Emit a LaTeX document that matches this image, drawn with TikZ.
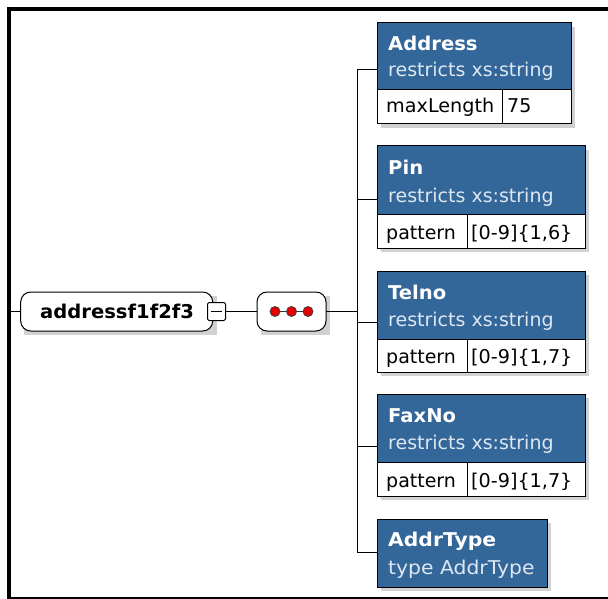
\documentclass[tikz,border=0pt]{standalone}
\usepackage{fontspec}
\setmainfont{DejaVu Sans}
\definecolor{xsblue}{RGB}{51,102,153}
\definecolor{subtxt}{RGB}{222,232,242}
\newcommand\xst[2]{\scalebox{#1}[1]{#2}}
\tikzset{
  con/.style={draw=black, line width=1pt},
  shadowbox/.style={fill=black!18, draw=none},
  bluebox/.style={draw=black, fill=xsblue, line width=1pt, inner sep=0pt, outer sep=0pt, anchor=north west},
  cellbox/.style={draw=black, fill=white, line width=1pt, inner sep=0pt, outer sep=0pt, anchor=north west},
  elembox/.style={draw=black, fill=white, line width=1pt, rounded corners=10pt, inner sep=0pt, outer sep=0pt, anchor=north west},
  titletxt/.style={anchor=base west, text=white, font=\bfseries\fontsize{19}{21}\selectfont, inner sep=0pt},
  subtxt/.style={anchor=base west, text=subtxt, font=\fontsize{19}{21}\selectfont, inner sep=0pt},
  celltxt/.style={anchor=base west, text=black, font=\fontsize{19}{21}\selectfont, inner sep=0pt},
  roottxt/.style={anchor=base west, text=black, font=\bfseries\fontsize{19}{21}\selectfont, inner sep=0pt},
  seqdot/.style={circle, fill=red!90!black, draw=black!75, line width=0.8pt, minimum size=10pt, inner sep=0pt},
}
\begin{document}
\begin{tikzpicture}[x=1pt,y=-1pt]
\useasboundingbox (0,0) rectangle (608,599);
\fill[white] (0,0) rectangle (608,599);
% frame
\fill[black] (7,7) rectangle (608,11);
\fill[black] (7,7) rectangle (11,599);
\fill[black] (7,597.3) rectangle (608,599);

% shadows
\fill[shadowbox] (24,296) rectangle (217,335);
\fill[shadowbox] (261,296) rectangle (330,335);
\fill[shadowbox] (381,27) rectangle (575,128);
\fill[shadowbox] (381,150) rectangle (589,252);
\fill[shadowbox] (381,275) rectangle (589,376);
\fill[shadowbox] (381,398) rectangle (589,500);
\fill[shadowbox] (381,523) rectangle (551,591);

% root element
\node[elembox, minimum width=192pt, minimum height=39pt] (root) at (20.7,292) {};
\node[roottxt] (rootname) at (40,318) {\xst{1.03}{addressf1f2f3}};
\node[draw=black, fill=white, line width=1pt, rounded corners=1.5pt, minimum size=18pt, inner sep=0pt, outer sep=0pt] (minus) at (216.5,311.5) {};
\draw[line width=1pt] ([xshift=-5.5pt]minus.center) -- ([xshift=5.5pt]minus.center);

% sequence compositor
\node[elembox, minimum width=69pt, minimum height=39pt] (seq) at (257,292) {};
\node[seqdot] (d1) at (275,311.5) {};
\node[seqdot] (d2) at (291.5,311.5) {};
\node[seqdot] (d3) at (308,311.5) {};
\draw[line width=1.2pt, black!80] (d1) -- (d2) (d2) -- (d3);

% trunk coordinates
\coordinate (frameL) at (11,311.5);
\coordinate (t1) at (357,70);
\coordinate (t2) at (357,199);
\coordinate (t3) at (357,322);
\coordinate (t4) at (357,446);
\coordinate (t5) at (357,552);

% Address
\node[bluebox, minimum width=194pt, minimum height=67pt] (addr) at (377,23) {};
\node[cellbox, minimum width=125pt, minimum height=34pt] (addrk) at (addr.south west) {};
\node[cellbox, minimum width=69pt, minimum height=34pt] (addrv) at (addrk.north east) {};
\node[titletxt] (addrn) at (388,51) {\xst{1.03}{Address}};
\node[subtxt] (addrs) at (388,77) {restricts xs:string};
\node[celltxt] (addrkt) at (386,113) {\xst{1.01}{maxLength}};
\node[celltxt] (addrvt) at (507,113) {75};

% Pin
\node[bluebox, minimum width=208pt, minimum height=68pt] (pin) at (377,146) {};
\node[cellbox, minimum width=90pt, minimum height=34pt] (pink) at (pin.south west) {};
\node[cellbox, minimum width=118pt, minimum height=34pt] (pinv) at (pink.north east) {};
\node[titletxt] (pinn) at (388,175) {\xst{1.03}{Pin}};
\node[subtxt] (pins) at (388,202) {restricts xs:string};
\node[celltxt] (pinkt) at (386,239) {pattern};
\node[celltxt] (pinvt) at (471,239) {\xst{1.01}{[0-9]\{1,6\}}};

% Telno
\node[bluebox, minimum width=208pt, minimum height=68pt] (tel) at (377,271) {};
\node[cellbox, minimum width=90pt, minimum height=33pt] (telk) at (tel.south west) {};
\node[cellbox, minimum width=118pt, minimum height=33pt] (telv) at (telk.north east) {};
\node[titletxt] (teln) at (388,299) {\xst{1.03}{Telno}};
\node[subtxt] (tels) at (388,326) {restricts xs:string};
\node[celltxt] (telkt) at (386,363) {pattern};
\node[celltxt] (telvt) at (471,363) {\xst{1.01}{[0-9]\{1,7\}}};

% FaxNo
\node[bluebox, minimum width=208pt, minimum height=68pt] (fax) at (377,394) {};
\node[cellbox, minimum width=90pt, minimum height=34pt] (faxk) at (fax.south west) {};
\node[cellbox, minimum width=118pt, minimum height=34pt] (faxv) at (faxk.north east) {};
\node[titletxt] (faxn) at (388,422) {\xst{1.03}{FaxNo}};
\node[subtxt] (faxs) at (388,449) {restricts xs:string};
\node[celltxt] (faxkt) at (386,487) {pattern};
\node[celltxt] (faxvt) at (471,487) {\xst{1.01}{[0-9]\{1,7\}}};

% AddrType
\node[bluebox, minimum width=170pt, minimum height=68pt] (atype) at (377,519) {};
\node[titletxt] (atypen) at (388,546) {\xst{1.07}{AddrType}};
\node[subtxt] (atypes) at (388,574) {\xst{1.07}{type AddrType}};

% connectors
\draw[con] (frameL) -- (root.west);
\draw[con] (minus.east) -- (seq.west);
\draw[con] (seq.east) -- (seq.east -| t1);
\draw[con] (t1) -- (t5);
\draw[con] (t1) -- (addr.west |- t1);
\draw[con] (t2) -- (pin.west |- t2);
\draw[con] (t3) -- (tel.west |- t3);
\draw[con] (t4) -- (fax.west |- t4);
\draw[con] (t5) -- (atype.west |- t5);
\end{tikzpicture}
\end{document}
